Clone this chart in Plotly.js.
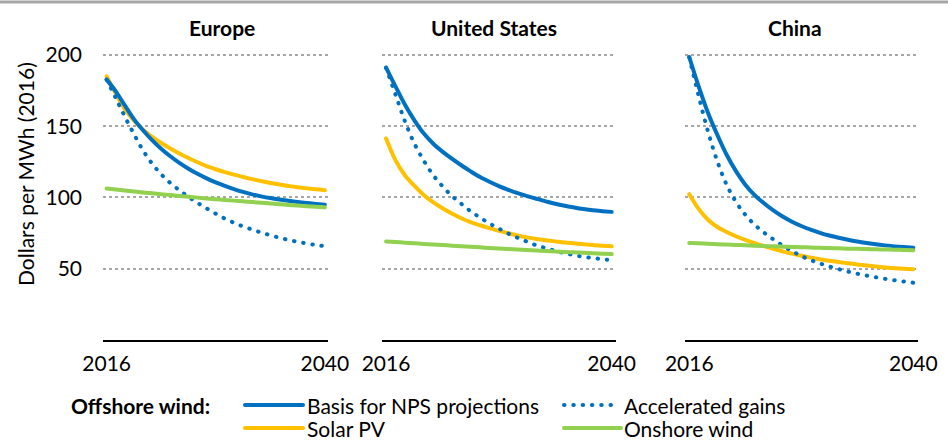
<!DOCTYPE html>
<html><head><meta charset="utf-8">
<script src="https://cdn.plot.ly/plotly-3.0.1.min.js"></script>
<style>
html,body{margin:0;padding:0;background:#fff}
#chart .scatterlayer .js-line{stroke-linecap:round}
#chart .shapelayer path{stroke-linecap:round}
</style>
</head><body>
<div id="chart" style="width:948px;height:441px"></div>
<script>
// ---- data ----
const years = [2016,2017,2018,2019,2020,2021,2022,2023,2024,2025,2026,2027,2028,
               2029,2030,2031,2032,2033,2034,2035,2036,2037,2038,2039,2040];
const regions = ['Europe','United States','China'];
const seriesNames = ['Basis for NPS projections','Accelerated gains','Solar PV','Onshore wind'];

const europeBasis  = [182.7,174.5,164.6,155,147.2,140.3,134.2,128.9,124.3,120.2,116.6,113.4,110.6,
                      108.1,105.9,103.9,102.2,100.8,99.6,98.6,97.7,96.9,96.2,95.5,94.9];
const europeAccel  = [182.7,169.8,156.8,144.5,133,123.8,116.3,110.2,105.1,100.4,96.2,92.3,88.6,
                      85.2,82.3,79.7,77.5,75.4,73.5,71.8,70.2,68.9,67.7,66.7,65.8];
const europeSolar  = [185,173,162,154,147.5,142.5,138.2,134.4,130.9,127.7,124.7,122,119.8,
                      117.8,116,114.4,112.9,111.5,110.2,109.1,108.1,107.2,106.4,105.7,105.1];
const europeOnshore= [106.3,105.6,104.9,104.2,103.5,102.9,102.3,101.7,101.1,100.5,99.9,99.3,98.8,
                      98.3,97.8,97.3,96.8,96.3,95.8,95.3,94.8,94.3,93.9,93.5,93.1];

const usBasis  = [191.1,178,165.2,154.3,145,137.9,132.2,127.2,122.6,118.3,114.3,111,108,
                  105.4,103,101,99.1,97.3,95.6,94.2,93,91.9,91,90.4,89.9];
const usAccel  = [191,172.3,153.6,138,126,115.8,107.9,101.1,95.6,90.3,85.9,81.8,78.2,
                  74.7,71.7,69,66.4,64.4,62.6,60.9,59.6,58.4,57.5,56.7,56];
const usSolar  = [141.4,126.2,115.6,108.3,101.8,96.7,92.4,88.7,85.4,82.7,80.5,78.5,76.6,
                  74.9,73.3,72,70.9,70,69.2,68.4,67.8,67.2,66.6,66.1,65.7];
const usOnshore= [69.2,68.75,68.3,67.85,67.4,67,66.6,66.2,65.8,65.4,65,64.6,64.25,
                  63.9,63.55,63.2,62.85,62.5,62.15,61.8,61.5,61.2,60.9,60.6,60.3];

const chinaBasis  = [198.4,178,159.5,144,130,118.5,109,101.7,95.9,90.9,86.6,83,80,
                     77.4,75.2,73.3,71.7,70.3,69.1,68.1,67.2,66.4,65.7,65.2,64.8];
const chinaAccel  = [198.4,171.4,146.4,125.4,108.9,96.9,87.9,80.9,75.4,70.6,66.3,62.4,58.9,
                     56.1,53.7,51.6,49.7,48,46.5,45.2,44,42.9,41.9,41,40.2];
const chinaSolar  = [102.3,92,84.4,79.3,75.8,72.8,70.2,67.9,65.9,64,62.2,60.6,59.1,
                     57.8,56.6,55.6,54.7,53.8,53,52.2,51.5,50.9,50.4,50,49.7];
const chinaOnshore= [68.1,67.8,67.5,67.2,66.95,66.7,66.45,66.2,65.95,65.7,65.5,65.3,65.1,
                     64.9,64.7,64.5,64.3,64.1,63.95,63.8,63.65,63.5,63.35,63.2,63];

const xTicks = [2016, 2040];
const yTicks = [50, 100, 150, 200];

// ---- styling ----
const BLUE = '#0070C0', YELLOW = '#FFC000', GREEN = '#92D050';
const FONT = 'Lato, "Open Sans", sans-serif';
const FS = 21;
const W = 948, H = 441, MT = 40, MB = 101;
const plotH = H - MT - MB;
const px = v => v / W;
const py = v => (H - MB - v) / plotH;

const regionData = [
  {basis: europeBasis, accel: europeAccel, solar: europeSolar, onshore: europeOnshore},
  {basis: usBasis, accel: usAccel, solar: usSolar, onshore: usOnshore},
  {basis: chinaBasis, accel: chinaAccel, solar: chinaSolar, onshore: chinaOnshore}
];

const traces = [];
regionData.forEach((d, i) => {
  const xa = i === 0 ? 'x' : 'x' + (i + 1);
  const ya = i === 0 ? 'y' : 'y' + (i + 1);
  const mk = (vals, name, color, dash) => ({
    type: 'scatter', mode: 'lines', x: years, y: vals, name: name,
    xaxis: xa, yaxis: ya, showlegend: false, hoverinfo: 'skip',
    line: {color: color, width: 4, shape: 'spline', smoothing: 1, dash: dash || 'solid'}
  });
  traces.push(mk(d.solar, seriesNames[2], YELLOW));
  traces.push(mk(d.basis, seriesNames[0], BLUE));
  traces.push(mk(d.accel, seriesNames[1], BLUE, '0.5px,8.8px'));
  traces.push(mk(d.onshore, seriesNames[3], GREEN));
});

const domains = [[103, 328], [382, 616], [685, 918]];
const xRanges = [[2015.6, 2040.35], [2015.57, 2040.46], [2015.54, 2040.5]];
const layout = {
  width: W, height: H,
  margin: {l: 0, r: 0, t: MT, b: MB},
  paper_bgcolor: '#fff', plot_bgcolor: '#fff',
  font: {family: FONT, size: FS, color: '#000'},
  showlegend: false,
  annotations: [], shapes: []
};
domains.forEach((dm, i) => {
  const sx = i === 0 ? '' : String(i + 1);
  layout['xaxis' + sx] = {
    domain: [px(dm[0]), px(dm[1])], range: xRanges[i], anchor: 'y' + sx,
    tickvals: xTicks, ticktext: xTicks.map(String), ticks: '', showgrid: false, zeroline: false,
    showline: true, linecolor: '#000', linewidth: 1.5, ticklabelstandoff: 4,
    tickfont: {family: FONT, size: FS, color: '#000'}, fixedrange: true
  };
  layout['yaxis' + sx] = {
    domain: [0, 1], range: [0, 210.5], anchor: 'x' + sx,
    tickvals: yTicks, ticktext: yTicks.map(String), ticks: '', showticklabels: i === 0,
    ticklabelstandoff: 20,
    showgrid: true, gridcolor: '#a6a6a6', gridwidth: 2, griddash: 'dot',
    zeroline: false, showline: false,
    tickfont: {family: FONT, size: FS, color: '#000'}, fixedrange: true
  };
});

// subplot titles
const titleX = [222, 494, 795];
regions.forEach((r, i) => {
  layout.annotations.push({
    text: '<b>' + r + '</b>', xref: 'paper', yref: 'paper', x: px(titleX[i]), y: py(27),
    xanchor: 'center', yanchor: 'middle', showarrow: false,
    font: {family: FONT, size: FS, color: '#000'}
  });
});
// y-axis title
layout.annotations.push({
  text: 'Dollars per MWh (2016)', xref: 'paper', yref: 'paper', x: px(25), y: py(174),
  xanchor: 'center', yanchor: 'middle', textangle: -90, showarrow: false,
  font: {family: FONT, size: FS, color: '#000'}
});
// top rule
layout.shapes.push({type: 'line', xref: 'paper', yref: 'paper', x0: 0, x1: 1, y0: py(2), y1: py(2),
  line: {color: '#a6a6a6', width: 3}});

// legend (manual)
layout.annotations.push({
  text: '<b>Offshore wind:</b>', xref: 'paper', yref: 'paper', x: px(69), y: py(405),
  xanchor: 'left', yanchor: 'middle', showarrow: false, font: {family: FONT, size: FS, color: '#000'}
});
const legendItems = [
  {name: seriesNames[0], color: BLUE, dash: 'solid', x0: 245, x1: 303, tx: 305, y: 405},
  {name: seriesNames[1], color: BLUE, dash: '0.5px,8.8px', x0: 564, x1: 613, tx: 622, y: 405},
  {name: seriesNames[2], color: YELLOW, dash: 'solid', x0: 245, x1: 303, tx: 305, y: 428},
  {name: seriesNames[3], color: GREEN, dash: 'solid', x0: 564, x1: 621, tx: 622, y: 428}
];
legendItems.forEach(it => {
  layout.shapes.push({type: 'line', xref: 'paper', yref: 'paper',
    x0: px(it.x0), x1: px(it.x1), y0: py(it.y), y1: py(it.y),
    line: {color: it.color, width: 4, dash: it.dash}});
  layout.annotations.push({
    text: it.name, xref: 'paper', yref: 'paper', x: px(it.tx), y: py(it.y),
    xanchor: 'left', yanchor: 'middle', showarrow: false, font: {family: FONT, size: FS, color: '#000'}
  });
});

Plotly.newPlot('chart', traces, layout, {displayModeBar: false, staticPlot: true});
</script>
</body></html>
